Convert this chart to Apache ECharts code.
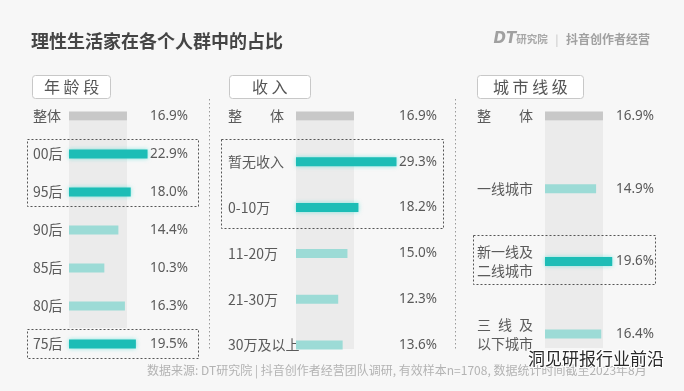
<!DOCTYPE html>
<html><head><meta charset="utf-8">
<script src="https://cdn.jsdelivr.net/npm/echarts@6/dist/echarts.min.js"></script>
<style>html,body{margin:0;padding:0;background:#f7f7f7}#c{width:684px;height:391px}</style>
</head><body><div id="c"></div>
<script>
// ---- data ----
const ageCats = ['整体', '00后', '95后', '90后', '85后', '80后', '75后'];
const ageVals = [16.9, 22.9, 18.0, 14.4, 10.3, 16.3, 19.5];
const ageHighlight = [1, 2, 6];
const ageBoxes = [[1, 2], [6, 6]];

const incomeCats = ['整　　体', '暂无收入', '0-10万', '11-20万', '21-30万', '30万及以上'];
const incomeVals = [16.9, 29.3, 18.2, 15.0, 12.3, 13.6];
const incomeHighlight = [1, 2];
const incomeBoxes = [[1, 2]];

const cityCats = ['整　　体', '一线城市', '新一线及\n二线城市', '三\u2002线\u2002及\n以下城市'];
const cityVals = [16.9, 14.9, 19.6, 16.4];
const cityHighlight = [2];
const cityBoxes = [[2, 2]];

const panelTitles = ['年 龄 段', '收 入', '城 市 线 级'];
const mainTitle = '理性生活家在各个人群中的占比';
const sourceText = '数据来源: DT研究院 | 抖音创作者经营团队调研, 有效样本n=1708, 数据统计时间截至2023年8月';

// ---- layout / style ----
const BG = '#f7f7f7';
const PX_PER_PCT = 3.43;
const FONT = '"Noto Sans CJK SC", "Noto Sans", sans-serif';
const panels = [
  {cats: ageCats, vals: ageVals, hl: ageHighlight, boxes: ageBoxes, left: 69, width: 119, top: 97, height: 266,
   catMargin: 36, valAlign: 'right', colBottom: 328, box: {l: 42, r: 10, t: 15, b: 14}},
  {cats: incomeCats, vals: incomeVals, hl: incomeHighlight, boxes: incomeBoxes, left: 296, width: 141, top: 93.1, height: 274.8,
   catMargin: 68, valAlign: 'right', colBottom: 349, box: {l: 75, r: 6, t: 23, b: 20}},
  {cats: cityCats, vals: cityVals, hl: cityHighlight, boxes: cityBoxes, left: 545, width: 71, top: 79.7, height: 290.7,
   catMargin: 68, valAlign: 'left', colBottom: 348, box: {l: 72, r: 39, t: 26, b: 23}}
];
const BAR_W = 9;

const grid = [], xAxis = [], yAxis = [], series = [];
panels.forEach((p, i) => {
  grid.push({left: p.left, top: p.top, width: p.width, height: p.height});
  xAxis.push({type: 'value', gridIndex: i, min: 0, max: p.width / PX_PER_PCT, show: false});
  yAxis.push({
    type: 'category', gridIndex: i, data: p.cats, inverse: true,
    axisLine: {show: false}, axisTick: {show: false}, splitLine: {show: false},
    axisLabel: {align: 'left', margin: p.catMargin, color: '#5a5a5a', fontSize: 14, lineHeight: 19, fontFamily: FONT}
  });
  yAxis.push({
    type: 'category', gridIndex: i, data: p.cats, inverse: true, position: 'right',
    axisLine: {show: false}, axisTick: {show: false}, splitLine: {show: false},
    axisLabel: {align: p.valAlign, margin: 0, color: '#5a5a5a', fontSize: 13.5, fontFamily: '"Noto Sans", sans-serif',
      formatter: (v, idx) => p.vals[idx].toFixed(1) + '%'}
  });
  // background column
  series.push({
    type: 'custom', xAxisIndex: i, yAxisIndex: i * 2, z: 1, silent: true,
    data: [[p.vals[0], 0]],
    renderItem: (params, api) => {
      const a = api.coord([0, 0]);
      const b = api.coord([api.value(0), 0]);
      const top = a[1] + BAR_W / 2 + 0.5;
      return {type: 'rect', shape: {x: a[0], y: top, width: b[0] - a[0], height: p.colBottom - top},
        style: {fill: '#ebebeb'}};
    }
  });
  // dashed highlight boxes
  series.push({
    type: 'custom', xAxisIndex: i, yAxisIndex: i * 2, z: 2, silent: true,
    data: p.boxes,
    renderItem: (params, api) => {
      const cs = params.coordSys;
      const a = api.coord([0, api.value(0)]);
      const b = api.coord([0, api.value(1)]);
      return {type: 'rect', shape: {x: Math.round(cs.x - p.box.l) + 0.5, y: Math.round(a[1] - p.box.t) + 0.5,
          width: Math.round(cs.width + p.box.l + p.box.r), height: Math.round(b[1] - a[1] + p.box.t + p.box.b)},
        style: {fill: 'none', stroke: '#555', lineWidth: 1, lineDash: [2, 2]}};
    }
  });
  // bars
  series.push({
    type: 'bar', xAxisIndex: i, yAxisIndex: i * 2, z: 3, barWidth: BAR_W, silent: true,
    data: p.vals.map((v, k) => {
      if (k === 0) return {value: v, itemStyle: {color: '#c8c8c8'}};
      if (p.hl.includes(k)) return {value: v, itemStyle: {color: '#1dbdb6', shadowColor: 'rgba(40,220,210,0.55)', shadowBlur: 4}};
      return {value: v, itemStyle: {color: '#9cdbd6'}};
    })
  });
});

const titleBoxes = [
  {left: 32, top: 75, pad: [3, 12]},
  {left: 229, top: 75, pad: [3, 23]},
  {left: 477, top: 75, pad: [3, 16]}
];
const title = [
  {text: mainTitle, left: 31, top: 31, padding: 0,
    textStyle: {fontSize: 18, fontWeight: 'bold', color: '#454545', fontFamily: FONT, lineHeight: 20}},
  {text: '{dt|DT}{s|研究院}{sep|   |   }{b|抖音创作者经营}', right: 34, top: 32, padding: 0,
    textStyle: {rich: {
      dt: {fontSize: 15, fontWeight: 'bold', fontStyle: 'italic', color: '#a0a0a0', fontFamily: '"DejaVu Sans"'},
      s: {fontSize: 10.5, fontWeight: 'bold', color: '#a8a8a8', fontFamily: FONT},
      sep: {fontSize: 11, color: '#d0d0d0', fontFamily: FONT},
      b: {fontSize: 12, fontWeight: 'bold', color: '#a0a0a0', fontFamily: FONT}
    }}},
  {text: sourceText, left: 147, top: 364, padding: 0,
    textStyle: {fontSize: 12, fontWeight: 'normal', color: '#b3b3b3', fontFamily: FONT}},
  {text: '洞见研报行业前沿', left: 528, top: 350, padding: 0,
    textStyle: {fontSize: 17, fontWeight: 'normal', color: '#2a2a2a', fontFamily: FONT,
      textBorderColor: '#ffffff', textBorderWidth: 2}}
];
panelTitles.forEach((t, i) => {
  title.push({text: t, left: titleBoxes[i].left, top: titleBoxes[i].top, padding: titleBoxes[i].pad,
    backgroundColor: '#ffffff', borderColor: '#c8c8c8', borderWidth: 1, borderRadius: 3,
    textStyle: {fontSize: 16, fontWeight: 'normal', color: '#555', fontFamily: FONT, lineHeight: 18}});
});

const chart = echarts.init(document.getElementById('c'), null, {renderer: 'canvas'});
chart.setOption({
  backgroundColor: BG,
  animation: false,
  title: title,
  grid: grid, xAxis: xAxis, yAxis: yAxis, series: series,
  graphic: [
    {type: 'line', shape: {x1: 209.5, y1: 99, x2: 209.5, y2: 351}, style: {stroke: '#9a9a9a', lineWidth: 1, lineDash: [1.5, 2.5]}},
    {type: 'line', shape: {x1: 455.5, y1: 99, x2: 455.5, y2: 351}, style: {stroke: '#9a9a9a', lineWidth: 1, lineDash: [1.5, 2.5]}}
  ]
});
</script></body></html>
